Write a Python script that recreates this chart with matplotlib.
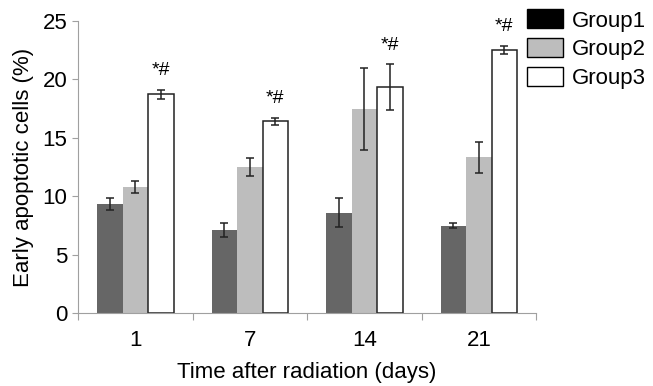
import numpy as np
import matplotlib.pyplot as plt
from matplotlib.patches import Patch

plt.rcParams['font.family'] = ['Liberation Sans', 'DejaVu Sans']

days = ["1", "7", "14", "21"]
group1 = [9.33, 7.1, 8.59, 7.48]
group1_err = [0.5, 0.63, 1.23, 0.21]
group2 = [10.8, 12.47, 17.44, 13.33]
group2_err = [0.49, 0.76, 3.5, 1.31]
group3 = [18.72, 16.41, 19.32, 22.54]
group3_err = [0.39, 0.3, 1.97, 0.33]
marks = ["*#", "*#", "*#", "*#"]


def main():
    fig = plt.figure(figsize=(6.53, 3.86), dpi=100)
    ax = fig.add_axes([0.1195, 0.189, 0.7015, 0.7566])

    x = np.arange(len(days))
    w = 0.223
    ekw = dict(ecolor='#222222', elinewidth=1.1, capsize=3, capthick=1.1)
    ax.bar(x - w, group1, w, yerr=group1_err, color='#666666', error_kw=ekw)
    ax.bar(x, group2, w, yerr=group2_err, color='#bdbdbd', error_kw=ekw)
    ax.bar(x + w, group3, w, yerr=group3_err, color='white', edgecolor='#222222',
           linewidth=1.1, error_kw=ekw)

    for i in range(len(days)):
        ax.text(x[i] + w, group3[i] + group3_err[i] + 0.9, marks[i], ha='center',
                va='bottom', fontsize=14)

    ax.set_xlim(-0.5, 3.5)
    ax.set_ylim(0, 25)
    ax.set_yticks([0, 5, 10, 15, 20, 25])
    ax.set_xticks(np.arange(-0.5, 4, 1))
    ax.set_xticklabels([])
    ax.set_xticks(x, minor=True)
    ax.set_xticklabels(days, minor=True)
    ax.tick_params(axis='x', which='minor', length=0, labelsize=16, pad=12)
    ax.tick_params(axis='x', which='major', length=5, color='#a0a0a0')
    ax.tick_params(axis='y', length=4, color='#a0a0a0', labelsize=16)

    for s in ['top', 'right']:
        ax.spines[s].set_visible(False)
    for s in ['left', 'bottom']:
        ax.spines[s].set_color('#a0a0a0')

    ax.set_ylabel("Early apoptotic cells (%)", fontsize=16, labelpad=6)
    ax.set_xlabel("Time after radiation (days)", fontsize=16, labelpad=8)

    handles = [Patch(facecolor='black', edgecolor='black'),
               Patch(facecolor='#bdbdbd', edgecolor='black'),
               Patch(facecolor='white', edgecolor='black')]
    ax.legend(handles, ["Group1", "Group2", "Group3"], loc='upper left',
              bbox_to_anchor=(0.98, 1.04), frameon=False, fontsize=16,
              handlelength=1.6, handleheight=0.95, handletextpad=0.4,
              labelspacing=0.3, borderaxespad=0, borderpad=0)

    fig.savefig("out.png", dpi=100)


if __name__ == "__main__":
    main()
